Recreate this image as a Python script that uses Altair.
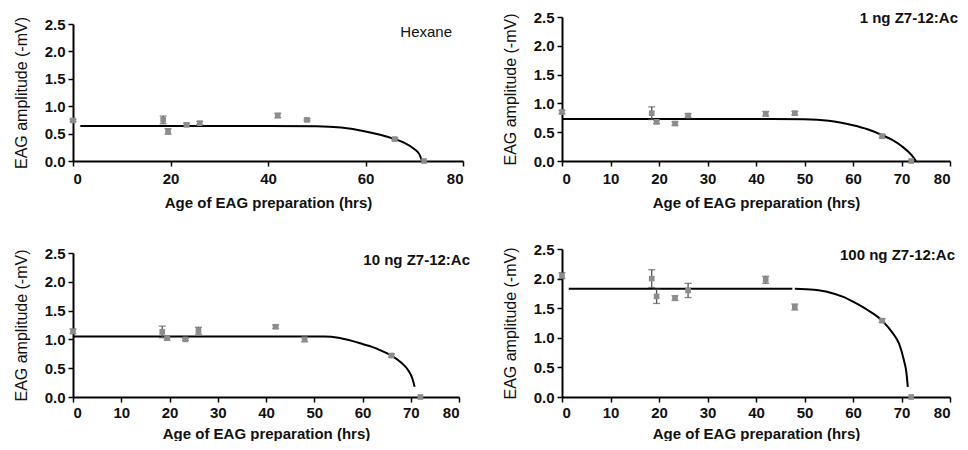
import altair as alt
import pandas as pd

# ---- data ----
panel_labels = ["Hexane", "1 ng Z7-12:Ac", "10 ng Z7-12:Ac", "100 ng Z7-12:Ac"]
ages = [0, 18.5, 19.5, 23.3, 26, 42, 48, 66, 72]

amp_hexane = [0.74, 0.75, 0.54, 0.66, 0.69, 0.83, 0.75, 0.40, 0.0]
err_hexane = [0.02, 0.07, 0.05, 0.03, 0.03, 0.04, 0.02, 0.02, 0.0]
amp_1ng = [0.85, 0.83, 0.68, 0.65, 0.79, 0.82, 0.83, 0.43, 0.0]
err_1ng = [0.03, 0.11, 0.03, 0.03, 0.03, 0.04, 0.03, 0.03, 0.0]
amp_10ng = [1.14, 1.13, 1.02, 1.00, 1.15, 1.22, 1.00, 0.72, 0.0]
err_10ng = [0.04, 0.10, 0.03, 0.02, 0.06, 0.03, 0.04, 0.03, 0.0]
amp_100ng = [2.05, 2.00, 1.70, 1.67, 1.80, 1.98, 1.52, 1.29, 0.0]
err_100ng = [0.05, 0.15, 0.12, 0.04, 0.12, 0.06, 0.05, 0.03, 0.0]

# fitted curves (segments of x, y)
fit_hexane_x = [1.5, 10, 20, 30, 40, 50, 55, 60, 63, 66, 68, 70, 71, 71.6]
fit_hexane_y = [0.64, 0.64, 0.64, 0.64, 0.64, 0.635, 0.61, 0.54, 0.48, 0.40, 0.33, 0.22, 0.13, 0.0]
fit_1ng_x = [0, 10, 20, 30, 40, 50, 55, 60, 63, 66, 68, 70, 72, 73]
fit_1ng_y = [0.73, 0.73, 0.73, 0.73, 0.73, 0.725, 0.70, 0.62, 0.55, 0.45, 0.37, 0.26, 0.11, 0.0]
fit_10ng_x = [0, 10, 20, 30, 40, 52, 55, 58, 60, 62, 64, 66, 68, 69.5, 70.3, 70.8]
fit_10ng_y = [1.05, 1.05, 1.05, 1.05, 1.05, 1.05, 1.03, 0.97, 0.92, 0.87, 0.80, 0.72, 0.60, 0.46, 0.33, 0.18]
fit_100ng_a_x = [1.4, 47.5]
fit_100ng_a_y = [1.83, 1.83]
fit_100ng_b_x = [48, 52, 55, 58, 60, 63, 66, 68, 69.5, 70.5, 71, 71.3]
fit_100ng_b_y = [1.83, 1.81, 1.77, 1.69, 1.61, 1.47, 1.29, 1.10, 0.90, 0.62, 0.42, 0.17]

amps = [amp_hexane, amp_1ng, amp_10ng, amp_100ng]
errs = [err_hexane, err_1ng, err_10ng, err_100ng]
fits = [
    [(fit_hexane_x, fit_hexane_y)],
    [(fit_1ng_x, fit_1ng_y)],
    [(fit_10ng_x, fit_10ng_y)],
    [(fit_100ng_a_x, fit_100ng_a_y), (fit_100ng_b_x, fit_100ng_b_y)],
]
y_ticks = [0, 0.5, 1.0, 1.5, 2.0, 2.5]
FONT = "Liberation Sans"


def panel(i, width, height, ytop, xstep, lx, ly, lweight, xlabpad, xtitlepad):
    pts = pd.DataFrame({"age": ages, "amp": amps[i], "err": errs[i]})
    pts["lo"] = pts["amp"] - pts["err"]
    pts["hi"] = pts["amp"] + pts["err"]
    bars = pts[pts["err"] > 0]
    rows = []
    for s, (xs, ys) in enumerate(fits[i]):
        for x, y in zip(xs, ys):
            rows.append({"age": x, "amp": y, "seg": s})
    cur = pd.DataFrame(rows)

    xsc = alt.Scale(domain=[0, 80], nice=False, zero=False)
    ysc = alt.Scale(domain=[0, 2.5], nice=False, range=[height, ytop])
    xax = alt.Axis(values=list(range(0, 81, xstep)), title="Age of EAG preparation (hrs)",
                   labelPadding=xlabpad, titlePadding=xtitlepad)
    yax = alt.Axis(values=y_ticks, format=".1f", title="EAG amplitude (-mV)")
    X = alt.X("age:Q", scale=xsc, axis=xax)

    line = alt.Chart(cur).mark_line(color="black", strokeWidth=2, interpolate="monotone").encode(
        x=X, y=alt.Y("amp:Q", scale=ysc, axis=yax), detail="seg:N"
    )
    rule = alt.Chart(bars).mark_rule(color="#555555", strokeWidth=1.3).encode(
        x=X, y=alt.Y("lo:Q", scale=ysc, axis=yax), y2="hi:Q"
    )
    cap_hi = alt.Chart(bars).mark_tick(orient="horizontal", size=7, thickness=1.3, color="#555555").encode(
        x=X, y=alt.Y("hi:Q", scale=ysc, axis=yax)
    )
    cap_lo = alt.Chart(bars).mark_tick(orient="horizontal", size=7, thickness=1.3, color="#555555").encode(
        x=X, y=alt.Y("lo:Q", scale=ysc, axis=yax)
    )
    pts_m = alt.Chart(pts).mark_square(size=32, color="#8c8c8c", opacity=1).encode(
        x=X, y=alt.Y("amp:Q", scale=ysc, axis=yax)
    )
    lab = alt.Chart(pd.DataFrame({"t": [panel_labels[i]]})).mark_text(
        align="right", baseline="middle", fontSize=15, font=FONT, fontWeight=lweight, color="#111111"
    ).encode(x=alt.value(lx), y=alt.value(ly), text="t:N")
    return alt.layer(line, rule, cap_hi, cap_lo, pts_m, lab).properties(width=width, height=height)


p1 = panel(0, 390, 144, 7, 20, 379, 15, "normal", 5, 9)
p2 = panel(1, 388, 144, 0, 10, 396, 1, "bold", 5, 9)
p3 = panel(2, 386, 148, 4, 10, 397, 11, "bold", 3, 6)
p4 = panel(3, 388, 148, 0, 10, 393, 6, "bold", 3, 6)

chart = (
    alt.concat(p1, p2, p3, p4, columns=2, spacing={"row": 32, "column": 32})
    .properties(padding={"left": 5, "top": 2, "right": 1, "bottom": 0})
    .configure_view(stroke=None)
    .configure_axis(
        grid=False,
        domainColor="black",
        domainWidth=2,
        tickColor="black",
        tickWidth=1.5,
        tickSize=5,
        labelFont=FONT,
        labelFontSize=15,
        labelFontWeight="bold",
        labelColor="#111111",
        titleFont=FONT,
        titleColor="#111111",
    )
    .configure_axisX(titleFontWeight="bold", titleFontSize=15)
    .configure_axisY(labelPadding=3, titlePadding=15, titleFontWeight="normal", titleFontSize=16)
)

chart.save("out.html", embed_options={"renderer": "svg", "actions": False})
